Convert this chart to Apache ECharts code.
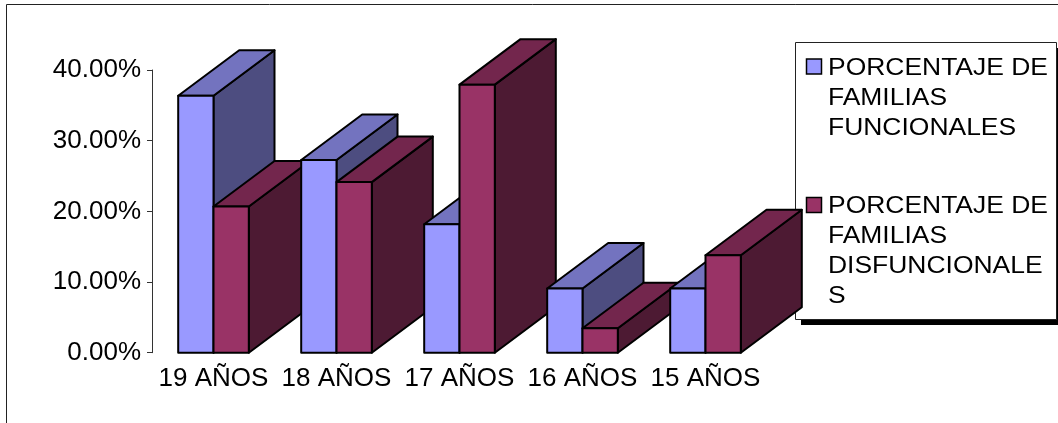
<!DOCTYPE html>
<html>
<head>
<meta charset="utf-8">
<title>Porcentaje de familias funcionales y disfuncionales por edad</title>
<script src="https://cdn.jsdelivr.net/npm/echarts@6/dist/echarts.min.js"></script>
<style>
  html, body { margin: 0; padding: 0; background: #fff; }
  #chart { width: 1058px; height: 423px; }
</style>
</head>
<body>
<div id="chart"></div>
<script>
// Age groups and family percentages
const categories = ['19 AÑOS', '18 AÑOS', '17 AÑOS', '16 AÑOS', '15 AÑOS'];
const funcionales = [36.36, 27.27, 18.18, 9.09, 9.09];
const disfuncionales = [20.69, 24.14, 37.93, 3.45, 13.79];
const seriesNames = ['PORCENTAJE DE FAMILIAS FUNCIONALES', 'PORCENTAJE DE FAMILIAS DISFUNCIONALES'];
const legendLines = [
  ['PORCENTAJE DE', 'FAMILIAS', 'FUNCIONALES'],
  ['PORCENTAJE DE', 'FAMILIAS', 'DISFUNCIONALE', 'S']
];

const FONT = '"Liberation Sans", Arial, sans-serif';

// front / top / side shades for each series
const palette = [
  { front: '#9999FF', top: '#7373BF', side: '#4D4D80' },
  { front: '#993366', top: '#73264D', side: '#4D1A33' }
];
const DEPTH_X = 61;
const DEPTH_Y = -45.5;
const BAR_FRACTION = 0.287;

function box(x0, x1, yTop, yBase, colors) {
  const line = { stroke: '#000', lineWidth: 2, lineJoin: 'round' };
  return [
    {
      type: 'polygon',
      shape: { points: [[x1, yTop], [x1 + DEPTH_X, yTop + DEPTH_Y], [x1 + DEPTH_X, yBase + DEPTH_Y], [x1, yBase]] },
      style: Object.assign({ fill: colors.side }, line)
    },
    {
      type: 'polygon',
      shape: { points: [[x0, yTop], [x0 + DEPTH_X, yTop + DEPTH_Y], [x1 + DEPTH_X, yTop + DEPTH_Y], [x1, yTop]] },
      style: Object.assign({ fill: colors.top }, line)
    },
    {
      type: 'polygon',
      shape: { points: [[x0, yTop], [x1, yTop], [x1, yBase], [x0, yBase]] },
      style: Object.assign({ fill: colors.front }, line)
    }
  ];
}

function renderItem(params, api) {
  const idx = api.value(0);
  const base = api.coord([idx, 0]);
  const band = api.size([1, 0])[0];
  const w = band * BAR_FRACTION;
  let children = [];
  [api.value(1), api.value(2)].forEach(function (v, s) {
    const top = api.coord([idx, v]);
    const x0 = base[0] - w + s * w;
    children = children.concat(box(x0, x0 + w, top[1], base[1], palette[s]));
  });
  return { type: 'group', children: children };
}

const chart = echarts.init(document.getElementById('chart'), null, { renderer: 'canvas' });

// legend drawn as a boxed panel with a drop shadow
const legendGraphics = [
  { type: 'rect', z: 1, silent: true, shape: { x: 801, y: 48, width: 262, height: 277 }, style: { fill: '#000' } },
  { type: 'rect', z: 2, silent: true, shape: { x: 795.5, y: 42.5, width: 261, height: 277 }, style: { fill: '#fff', stroke: '#222', lineWidth: 1 } }
];
const legendStarts = [68.5, 207];
legendLines.forEach(function (lines, s) {
  const y0 = legendStarts[s];
  legendGraphics.push({
    type: 'rect', z: 3, silent: true,
    shape: { x: 806.5, y: y0 - 9.5, width: 15, height: 15 },
    style: { fill: palette[s].front, stroke: '#000', lineWidth: 1.5 }
  });
  lines.forEach(function (t, k) {
    legendGraphics.push({
      type: 'text', z: 3, silent: true,
      x: 828, y: y0 + k * 30, scaleX: 1.15,
      style: { text: t, fill: '#000', font: '23px ' + FONT, textVerticalAlign: 'middle' }
    });
  });
});

chart.setOption({
  animation: false,
  backgroundColor: '#fff',
  grid: { left: 152, right: 291, top: 70, bottom: 70.3, containLabel: false },
  xAxis: {
    type: 'category',
    data: categories,
    axisLine: { show: false },
    axisTick: { show: false },
    splitLine: { show: false },
    axisLabel: { color: '#000', fontSize: 26, fontFamily: FONT, margin: 13, interval: 0 }
  },
  yAxis: {
    type: 'value',
    min: 0, max: 40, interval: 10,
    axisLine: { show: true, lineStyle: { color: '#333', width: 1 } },
    axisTick: { show: true, length: 5, lineStyle: { color: '#333' } },
    splitLine: { show: false },
    axisLabel: {
      color: '#000', fontSize: 26, fontFamily: FONT, margin: 11,
      formatter: function (v) { return v.toFixed(2) + '%'; }
    }
  },
  series: [{
    type: 'custom',
    name: seriesNames.join(' / '),
    renderItem: renderItem,
    clip: false,
    encode: { x: 0, y: [1, 2] },
    data: categories.map(function (c, i) { return [i, funcionales[i], disfuncionales[i]]; })
  }],
  graphic: [
    { type: 'rect', z: 0, silent: true, shape: { x: 6.5, y: 4.5, width: 1200, height: 600 }, style: { fill: 'none', stroke: '#222', lineWidth: 1 } }
  ].concat(legendGraphics)
});
</script>
</body>
</html>
